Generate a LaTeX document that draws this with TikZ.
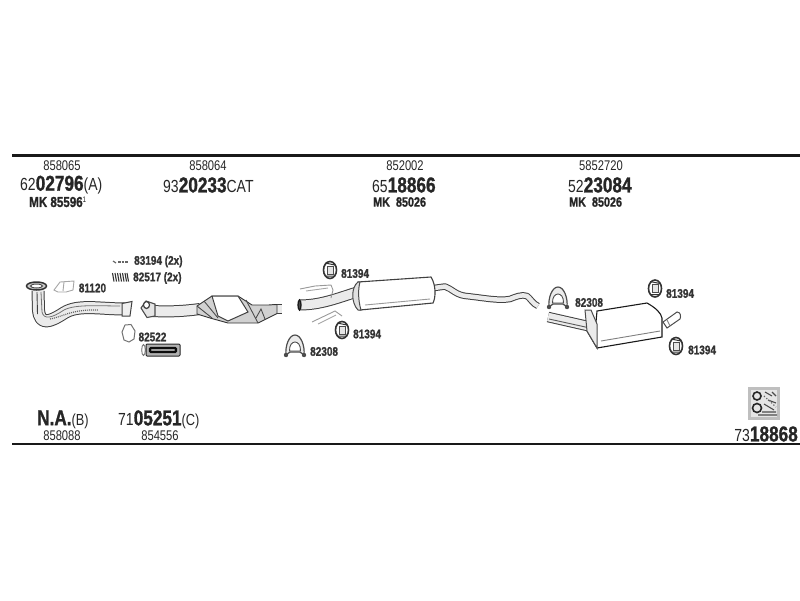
\documentclass[tikz,border=0pt]{standalone}
\usepackage{fontspec}
\setmainfont[FakeStretch=0.8,BoldFeatures={FakeBold=1.2}]{Liberation Sans}
\tikzset{
 x=1pt,y=-1pt,
 lab/.style={inner sep=0pt,text=black!85,font=\fontsize{14}{14}\selectfont},
 big/.style={inner sep=0pt,text=black!85,font=\fontsize{17.5}{17.5}\selectfont},
 mk/.style={inner sep=0pt,text=black!85,anchor=west,font=\fontsize{14.5}{14.5}\selectfont\bfseries},
 mks/.style={mk,font=\fontsize{13.5}{13.5}\selectfont\bfseries},
 part/.style={inner sep=0pt,text=black!80,font=\fontsize{12.5}{12.5}\selectfont\bfseries},
 rule/.style={line width=2.2pt,black!90},
 pipe/.style={draw=black!75,line width=1pt,fill=black!6},
 thin part/.style={draw=black!70,line width=.9pt,fill=white},
 light part/.style={draw=black!35,line width=.9pt,fill=white},
}
\newcommand{\bg}[1]{{\fontsize{21.5}{21.5}\selectfont\bfseries #1}}
\newcommand{\hanger}[2]{%
 \draw[black!80,line width=1.6pt,fill=white] (#1,#2) ellipse (6.5 and 8.5);
 \draw[black!70,line width=1pt,fill=black!10] (#1-2.5,#2-4) rectangle (#1+3,#2+4);
 \draw[black!80,line width=1pt] (#1-5,#2-7)--(#1+5,#2-5) (#1-5,#2+6)--(#1+5,#2+6);}
\newcommand{\clamp}[2]{%
 \draw[thin part,line width=1.2pt,fill=black!8] (#1-9,#2+6) .. controls (#1-10,#2-3) and (#1-6,#2-14) .. (#1,#2-14) .. controls (#1+6,#2-14) and (#1+10,#2-3) .. (#1+9,#2+6) -- (#1+5,#2+3) -- (#1-5,#2+3) -- cycle;
 \draw[thin part] (#1-5.5,#2+2) .. controls (#1-6,#2-10) and (#1+6,#2-10) .. (#1+5.5,#2+2) -- cycle;
 \fill[black!70] (#1-9,#2+6) circle (2.2) (#1+9,#2+6) circle (2.2);}
\begin{document}
\begin{tikzpicture}
\useasboundingbox (0,0) rectangle (800,600);
\draw[rule] (12,155.5) coordinate (t1) -- (800,155.5) coordinate (t2);
\draw[rule] (12,444) coordinate (b1) -- (800,444) coordinate (b2);

% top labels
\node[lab] (a1) at (62,165.5) {858065};
\node[big,anchor=west] (a2) at (20,185) {62\bg{02796}(A)};
\node[mk] (a3) at (29,202) {MK 85596\raisebox{4pt}{\fontsize{8}{8}\selectfont\mdseries 1}};
\node[lab] (c1) at (208,165.5) {858064};
\node[big,anchor=west] (c2) at (163,185) {93\bg{20233}CAT};
\node[lab] (d1) at (405,165.5) {852002};
\node[big,anchor=west] (d2) at (372,185) {65\bg{18866}};
\node[mks] (d3) at (373,202) {MK\ \ 85026};
\node[lab] (e1) at (601,165.5) {5852720};
\node[big,anchor=west] (e2) at (568,185) {52\bg{23084}};
\node[mks] (e3) at (569,202) {MK\ \ 85026};

% bottom labels
\node[big,anchor=west] (f1) at (37,419.5) {\bg{N.A.}\fontsize{16}{16}\selectfont(B)};
\node[lab] (f2) at (62,436) {858088};
\node[big,anchor=west] (g1) at (118,419.5) {71\bg{05251}\fontsize{16}{16}\selectfont(C)};
\node[lab] (g2) at (160,436) {854556};
\node[big,anchor=east] (h1) at (798,434) {73\bg{18868}};

% catalogue icon
\fill[black!25] (748,387) rectangle (780,420);
\fill[black!10] (751,390) rectangle (777,417);
\draw[black!85,line width=1.6pt] (757,396) circle (4) (757,408) circle (4.5);
\draw[black!70,line width=1.1pt] (765,392)--(772,396) (768,400)--(776,403) (764,404)--(774,410) (758,415)--(777,415) (772,392)--(776,396) (762,412)--(776,412);
\draw[black!60,line width=1.2pt,dotted] (764,396)--(776,407);

% front pipe
\draw[black!75,line width=13pt,line join=round] (38,291) -- (38.5,310) .. controls (40,326) and (50,322) .. (64,313) .. controls (78,304) and (100,309) .. (125,309);
\draw[black!8,line width=11pt,line join=round] (38,291) -- (38.5,310) .. controls (40,326) and (50,322) .. (64,313) .. controls (78,304) and (100,309) .. (125,309);
\draw[black!55,line width=.8pt] (41,292)--(42,312) .. controls (44,320) and (52,318) .. (64,310) .. controls (75,304) and (100,306) .. (120,306);
\draw[black!60,line width=1.2pt,dash pattern=on 1pt off 1pt] (50,319)..controls (62,317) and (72,309) .. (98,310);
\draw[black!75,line width=.9pt] (37,292)--(37.5,314);
\draw[pipe] (122,303.5) -- (132,301.5) -- (130,316) -- (122,316) -- cycle;
\draw[black!80,line width=1.5pt,fill=black!20] (36.5,286) ellipse (10 and 4);
\draw[black!70,line width=1pt,fill=white] (36.5,286) ellipse (6 and 2);

% gasket 81120
\draw[light part] (54,290)--(60,282)--(74,281)--(73,290)--(66,292)--(58,292)--cycle;
\draw[light part] (64,282)--(63,291);
\node[part] (n81120) at (92.5,288) {81120};

% bolt + springs
\draw[black!60,line width=1.2pt] (113,261)--(116,263);
\draw[black!60,line width=1.6pt,dash pattern=on 2.5pt off 1pt] (118,262)--(128,262);
\node[part,anchor=west] (n83194) at (134,261.5) {83194 (2x)};
\foreach \xx in {112.5,115,117.5,120,122.5,125,127}{\draw[black!80,line width=1.1pt] (\xx,273)--(\xx+1.5,281.5);}
\node[part,anchor=west] (n82517) at (133,278) {82517 (2x)};

% catalyst
\draw[black!75,line width=12pt] (153,311) .. controls (170,312) and (185,311) .. (200,309);
\draw[black!8,line width=10pt] (153,311) .. controls (170,312) and (185,311) .. (200,309);
\draw[black!75,line width=10pt] (272,309)--(282,309);
\draw[black!8,line width=8pt] (272,309)--(282,309);
\draw[thin part,line width=1.1pt,fill=black!10] (146,301) -- (155,304) -- (155,316) -- (147,317.5) -- (141,308) -- cycle;
\draw[black!75,line width=1.2pt,fill=white] (146.5,305) ellipse (3 and 3.5);
\draw[black!80,line width=.9pt,fill=black!18] (197,306) -- (212,296) -- (238,296) -- (252,305) -- (268,305) -- (277,304.5) -- (277,313.5) -- (268,318) -- (258,323) -- (228,323) -- (210,318) -- (197,314) -- cycle;
\draw[black!75,line width=1pt,fill=white] (212,296) -- (238,296) -- (248,312) -- (228,321) -- (218,316) -- cycle;
\draw[black!70,line width=.9pt] (197,306)--(212,318) (204,301)--(218,318) (246,300)--(258,323);
\draw[black!70,line width=.9pt] (256,318) -- (261,309) -- (265,319);

% gasket 82522 / heat shield
\draw[draw=black!55,line width=1pt,fill=white] (125,325)--(131,324.5)--(135,331)--(134,339)--(129,342)--(124,340)--(122,332)--cycle;
\node[part] (n82522) at (152.5,337) {82522};
\draw[black!55,line width=.9pt] (143.5,350) ellipse (1.8 and 5.5);
\draw[black!85,line width=1pt,fill=black!30,rounded corners=1pt] (146,344) rectangle (180,356);
\draw[black!95,line width=2.4pt,rounded corners=1pt] (150,348) rectangle (176,352);

% middle silencer
\draw[black!75,line width=11pt] (299,305) .. controls (320,305) and (335,299) .. (357,292);
\draw[black!8,line width=9pt] (299,305) .. controls (320,305) and (335,299) .. (357,292);
\draw[black!90,line width=1.3pt,fill=black!70] (299.5,305) ellipse (1.5 and 5);
\draw[black!40,line width=.9pt] (300,289) -- (315,286) -- (331,285) -- (333,290) -- (331,298);
\draw[black!35,line width=.9pt] (306,291) -- (328,288);
\draw[black!40,line width=.9pt] (312,322) -- (335,311) -- (342,316);
\draw[black!35,line width=.9pt] (318,324) -- (336,315);
\draw[black!75,line width=6.5pt,line join=round] (434,288) -- (445,286.5) .. controls (452,289) and (456,295) .. (466,296) .. controls (485,298) and (498,301) .. (510,299) .. controls (515,297) and (522,294) .. (527,296) .. controls (530,298) and (533,304) .. (538,306);
\draw[black!8,line width=4.5pt,line join=round] (434,288) -- (445,286.5) .. controls (452,289) and (456,295) .. (466,296) .. controls (485,298) and (498,301) .. (510,299) .. controls (515,297) and (522,294) .. (527,296) .. controls (530,298) and (533,304) .. (538,306);
\draw[black!75,line width=1.1pt,fill=white] (358,282) -- (431,277) .. controls (436,285) and (436,297) .. (433,303) -- (360,310) .. controls (356,300) and (356,290) .. (358,282) -- cycle;
\draw[black!70,line width=1pt,fill=black!12] (358,282) .. controls (351,287) and (351,303) .. (358,310) -- (361,310) .. controls (358,300) and (358,289) .. (360,282) -- cycle;
\draw[black!40,line width=.9pt] (365,305) -- (430,299);

\hanger{330}{270}
\node[part,anchor=west] (n81394a) at (341,273.5) {81394};
\hanger{342}{330}
\node[part,anchor=west] (n81394b) at (353,334) {81394};
\clamp{295}{349}
\node[part,anchor=west] (n82308a) at (310,351.5) {82308};

% rear silencer
\draw[black!75,line width=10.5pt] (548,317) -- (592,327);
\draw[black!8,line width=8.5pt] (548,317) -- (592,327);
\draw[black!65,line width=.9pt] (549,319)--(590,328);
\draw[black!90,line width=1.1pt,fill=white] (597,311) -- (647,303) .. controls (656,308) and (661,313) .. (662,318) -- (662,337) -- (597,348) -- (587,331) -- (592,328) -- (596,322) -- cycle;
\draw[black!70,line width=1pt,fill=black!8] (585,310) -- (591,310) -- (597,324) -- (597,348) -- (587,331) -- cycle;
\draw[black!50,line width=.9pt] (601,341) -- (660,331);
\draw[black!70,line width=1pt,fill=white] (663,322) -- (677,312) .. controls (681,312) and (681,317) .. (680,319) -- (667,328) -- cycle;
\draw[black!50,line width=.9pt] (667,320)--(670,326);
\clamp{558}{301}
\node[part,anchor=west] (n82308b) at (575,302.5) {82308};
\hanger{655}{288.5}
\node[part,anchor=west] (n81394c) at (666,293.5) {81394};
\hanger{676}{346}
\node[part,anchor=west] (n81394d) at (688,350) {81394};
\end{tikzpicture}
\end{document}
